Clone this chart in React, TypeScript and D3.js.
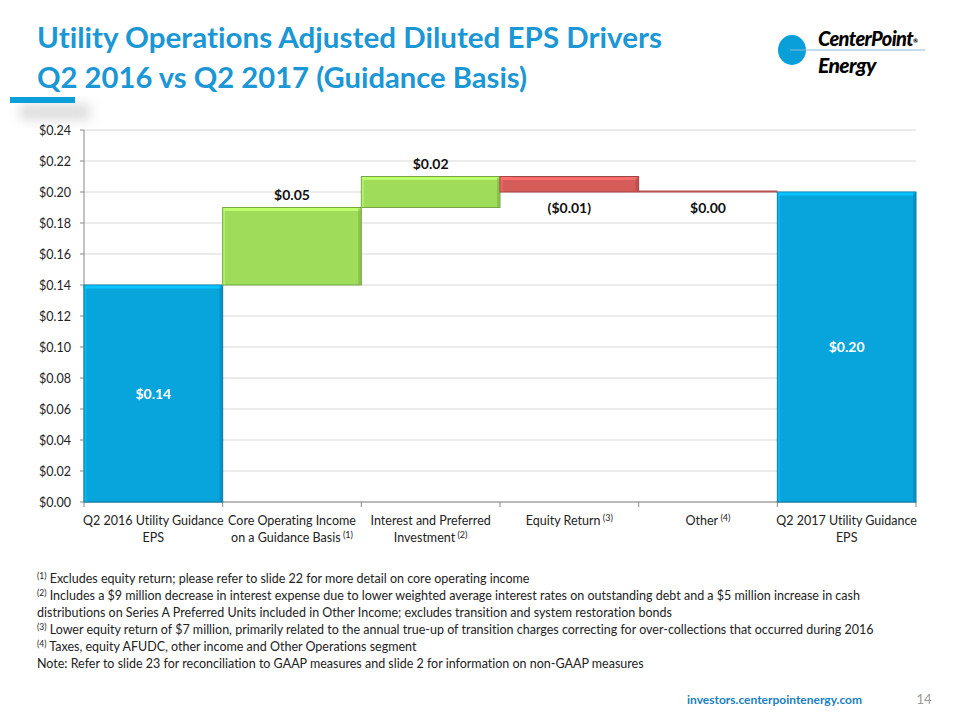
import React from "react";
import * as d3 from "d3";

const categories: string[][] = [
  ["Q2 2016 Utility Guidance", "EPS"],
  ["Core Operating Income", "on a Guidance Basis"],
  ["Interest and Preferred", "Investment"],
  ["Equity Return"],
  ["Other"],
  ["Q2 2017 Utility Guidance", "EPS"],
];
const categoryNotes = ["", "(1)", "(2)", "(3)", "(4)", ""];
const values = [0.14, 0.05, 0.02, -0.01, 0.0, 0.2];
const kinds = ["total", "delta", "delta", "delta", "delta", "total"];
const valueLabels = ["$0.14", "$0.05", "$0.02", "($0.01)", "$0.00", "$0.20"];
const yTicks = [0, 0.02, 0.04, 0.06, 0.08, 0.1, 0.12, 0.14, 0.16, 0.18, 0.2, 0.22, 0.24];

const footnotes: { sup: string; text: string }[] = [
  { sup: "(1)", text: " Excludes equity return; please refer to slide 22 for more detail on core operating income" },
  { sup: "(2)", text: " Includes a $9 million decrease in interest expense due to lower weighted average interest rates on outstanding debt and a $5 million increase in cash" },
  { sup: "", text: "distributions on Series A Preferred Units included in Other Income; excludes transition and system restoration bonds" },
  { sup: "(3)", text: " Lower equity return of $7 million, primarily related to the annual true-up of transition charges correcting for over-collections that occurred during 2016" },
  { sup: "(4)", text: " Taxes, equity AFUDC, other income and Other Operations segment" },
  { sup: "", text: "Note: Refer to slide 23 for reconciliation to GAAP measures and slide 2 for information on non-GAAP measures" },
];

const W = 960;
const H = 720;
const left = 84;
const right = 916;
const top = 130;
const bottom = 502;
const FONT = "Lato, 'Open Sans', sans-serif";

const BLUE = "#08a4dc";
const GREEN = "#9edc5a";
const RED = "#d65c5a";

export default function App() {
  const x = d3.scaleBand<number>().domain(d3.range(categories.length)).range([left, right]).padding(0);
  const y = d3.scaleLinear().domain([0, 0.24]).range([bottom, top]);
  const fmt = d3.format(".2f");

  let running = 0;
  const bars = values.map((v, i) => {
    let y0: number, y1: number;
    if (kinds[i] === "total") {
      y0 = 0;
      y1 = v;
      running = v;
    } else {
      y0 = running;
      y1 = running + v;
      running = y1;
    }
    const lo = Math.min(y0, y1);
    const hi = Math.max(y0, y1);
    const color = kinds[i] === "total" ? BLUE : v > 0 ? GREEN : RED;
    return { i, lo, hi, v, color, kind: kinds[i] };
  });

  return (
    <svg width={W} height={H} style={{ position: "absolute", left: 0, top: 0, background: "#fff", fontVariantLigatures: "none" }}>
      <defs>
        <filter id="blur" x="-50%" y="-50%" width="200%" height="200%">
          <feGaussianBlur stdDeviation="6" />
        </filter>
      </defs>
      {/* title */}
      <text x={37} y={48} fontFamily={FONT} fontWeight="bold" fontSize={29} fill="#1a97d4" textLength={625} lengthAdjust="spacingAndGlyphs">
        Utility Operations Adjusted Diluted EPS Drivers
      </text>
      <text x={37} y={88} fontFamily={FONT} fontWeight="bold" fontSize={29} fill="#1a97d4" textLength={490} lengthAdjust="spacingAndGlyphs">
        Q2 2016 vs Q2 2017 (Guidance Basis)
      </text>
      <rect x={20} y={104} width={70} height={16} fill="#bbb" opacity={0.5} filter="url(#blur)" />
      <rect x={10} y={97} width={65} height={6} fill="#0a9fd8" />

      {/* logo */}
      <ellipse cx={792} cy={50} rx={14} ry={15} fill="#0a9fd8" />
      <line x1={790} y1={50} x2={925} y2={50} stroke="#8fb8d8" strokeWidth={1} />
      <text x={818} y={46} fontFamily={FONT} fontWeight="900" fontStyle="italic" fontSize={20} fill="#000" letterSpacing={-0.6}>
        CenterPoint<tspan fontSize={6} fontStyle="normal" dy={-3}>®</tspan>
      </text>
      <text x={818} y={73} fontFamily={FONT} fontWeight="900" fontStyle="italic" fontSize={21} fill="#000" letterSpacing={-0.6}>Energy</text>

      {/* gridlines */}
      {yTicks.map((t) => (
        <g key={t}>
          <line x1={left} x2={right} y1={y(t)} y2={y(t)} stroke="#d9d9d9" strokeWidth={1} />
          <line x1={left - 4} x2={left} y1={y(t)} y2={y(t)} stroke="#888" strokeWidth={1} />
          <text x={71} y={y(t) + 4.5} textAnchor="end" fontFamily={FONT} fontSize={12.5} fill="#222">
            {"$" + fmt(t)}
          </text>
        </g>
      ))}
      <line x1={left} x2={left} y1={top} y2={bottom} stroke="#888" strokeWidth={1} />
      <line x1={left} x2={right} y1={bottom} y2={bottom} stroke="#888" strokeWidth={1} />
      {d3.range(categories.length + 1).map((k) => {
        const xx = k < categories.length ? (x(k) as number) : right;
        return <line key={k} x1={xx} x2={xx} y1={bottom} y2={bottom + 5} stroke="#888" strokeWidth={1} />;
      })}

      {/* bars */}
      {bars.map((b) => {
        const x0 = x(b.i) as number;
        const w = x.bandwidth();
        const yTop = y(b.hi);
        const h = y(b.lo) - y(b.hi);
        if (b.v === 0) {
          return <rect key={b.i} x={x0} y={yTop - 1.5} width={w} height={2} fill="#b5504e" />;
        }
        const dark = d3.color(b.color)!.darker(0.8).toString();
        const light = d3.color(b.color)!.brighter(0.5).toString();
        return (
          <g key={b.i}>
            <rect x={x0} y={yTop} width={w} height={h} fill={b.color} stroke={dark} strokeWidth={1} />
            <rect x={x0 + 1} y={yTop + 0.5} width={w - 2} height={3} fill={light} />
            <rect x={x0 + 0.5} y={yTop + 0.5} width={2} height={h - 1} fill={light} opacity={0.6} />
            <rect x={x0 + w - 3} y={yTop + 1} width={2.5} height={h - 1.5} fill={dark} opacity={0.5} />
          </g>
        );
      })}

      {/* value labels */}
      {bars.map((b) => {
        const cx = (x(b.i) as number) + x.bandwidth() / 2;
        let ly: number;
        let fill = "#111";
        if (b.kind === "total") {
          ly = (y(b.lo) + y(b.hi)) / 2 + 5;
          fill = "#fff";
        } else if (b.v > 0) {
          ly = y(b.hi) - 8;
        } else {
          ly = y(b.lo) + 21;
        }
        return (
          <text key={b.i} x={cx} y={ly} textAnchor="middle" fontFamily={FONT} fontWeight="bold" fontSize={14} fill={fill}>
            {valueLabels[b.i]}
          </text>
        );
      })}

      {/* category labels */}
      {categories.map((lines, i) => {
        const cx = (x(i) as number) + x.bandwidth() / 2;
        return (
          <text key={i} textAnchor="middle" fontFamily={FONT} fontSize={12.5} fill="#222">
            {lines.map((ln, j) => (
              <tspan key={j} x={cx} y={525 + j * 17}>
                {ln}
                {j === lines.length - 1 && categoryNotes[i] ? (
                  <tspan fontSize={9} dy={-4}>{" " + categoryNotes[i]}</tspan>
                ) : null}
              </tspan>
            ))}
          </text>
        );
      })}

      {/* footnotes */}
      {footnotes.map((f, i) => (
        <text key={i} x={37} y={583 + i * 17} fontFamily={FONT} fontSize={12.5} fill="#222">
          {f.sup ? <tspan fontSize={8.5} dy={-4}>{f.sup}</tspan> : null}
          <tspan dy={f.sup ? 4 : 0}>{f.text}</tspan>
        </text>
      ))}

      {/* footer */}
      <text x={862} y={704} textAnchor="end" fontFamily={FONT} fontWeight="bold" fontSize={12} fill="#1a7fc0">
        investors.centerpointenergy.com
      </text>
      <text x={924} y={704} textAnchor="middle" fontFamily={FONT} fontSize={13} fill="#999">
        14
      </text>
    </svg>
  );
}
